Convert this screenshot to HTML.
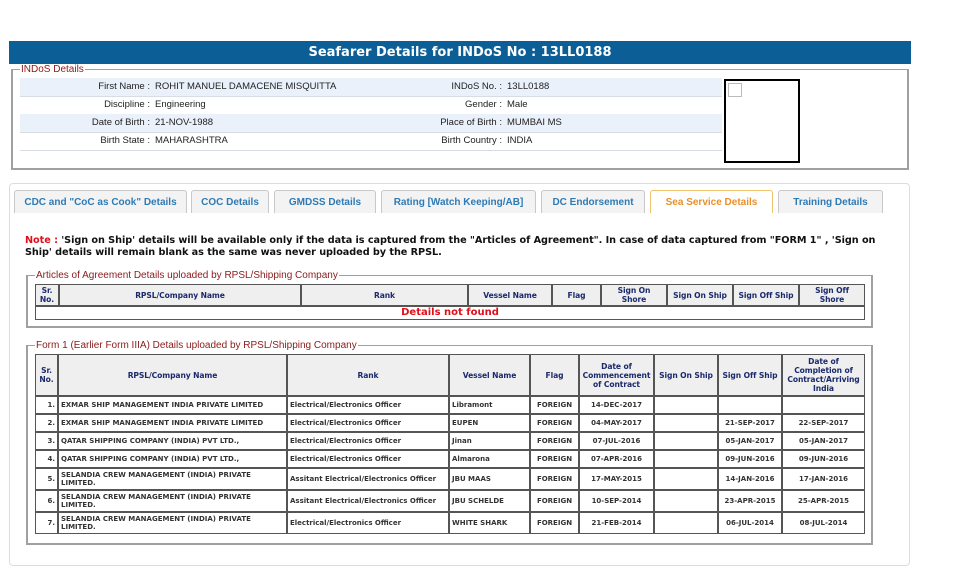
<!DOCTYPE html>
<html><head><meta charset="utf-8">
<style>
body{margin:0;width:968px;height:573px;background:#fff;position:relative;font-family:"Liberation Sans",Arial,sans-serif;overflow:hidden}
.a{position:absolute}
.hdr{left:9px;top:41px;width:902px;height:23px;background:#0b5f96;color:#fff;font:bold 13px "DejaVu Sans",sans-serif;text-align:center;line-height:23px}
.fs{border:2px solid #a0a0a0;border-top-width:1px;box-sizing:border-box}
.leg{background:#fff;color:#8b1a1a;font-size:10px;padding:0 1px}
.row{left:20px;width:702px;height:18px;border-bottom:1px solid #d8dde4;font-size:9.5px;color:#222;line-height:18px}
.row.b{background:#eaf1fb}
.row span{position:absolute}
.tab{top:190px;height:23px;border:1px solid #c8c8c8;border-bottom:none;border-radius:3px 3px 0 0;background:#f3f3f3;color:#2e7bb5;font:bold 10px "Liberation Sans",sans-serif;text-align:center;line-height:23px;box-sizing:border-box}
.tab.on{background:#fff;border-color:#f0c36d;color:#e8902a}
table{border-collapse:separate;border-spacing:0;table-layout:fixed;font-family:"DejaVu Sans",Verdana,sans-serif;font-weight:bold}
td,th{border:1px solid #444;padding:0 2px;overflow:hidden}
th{background:#efefef;color:#1c2a6b;font-size:7.6px;line-height:9px;padding:0 1px;letter-spacing:-0.1px}
td{font-size:7px;color:#333;line-height:8px}
.t th,.t td{border-color:#555}
</style></head><body>
<div class="a hdr">Seafarer Details for INDoS No : 13LL0188</div>

<div class="a fs" style="left:11px;top:69px;width:898px;height:101px"></div>
<div class="a leg" style="left:20px;top:64px">INDoS Details</div>
<div class="a row b" style="top:78px"><span style="left:0;width:130px;text-align:right">First Name :</span><span style="left:135px">ROHIT MANUEL DAMACENE MISQUITTA</span><span style="left:300px;width:182px;text-align:right">INDoS No. :</span><span style="left:487px">13LL0188</span></div>
<div class="a row" style="top:96px"><span style="left:0;width:130px;text-align:right">Discipline :</span><span style="left:135px">Engineering</span><span style="left:300px;width:182px;text-align:right">Gender :</span><span style="left:487px">Male</span></div>
<div class="a row b" style="top:114px"><span style="left:0;width:130px;text-align:right">Date of Birth :</span><span style="left:135px">21-NOV-1988</span><span style="left:300px;width:182px;text-align:right">Place of Birth :</span><span style="left:487px">MUMBAI MS</span></div>
<div class="a row" style="top:132px"><span style="left:0;width:130px;text-align:right">Birth State :</span><span style="left:135px">MAHARASHTRA</span><span style="left:300px;width:182px;text-align:right">Birth Country :</span><span style="left:487px">INDIA</span></div>
<div class="a" style="left:724px;top:79px;width:72px;height:80px;border:2px solid #000"><div style="margin:2px;width:12px;height:12px;border:1px solid #bbb"></div></div>

<div class="a" style="left:9px;top:183px;width:901px;height:383px;border:1px solid #ddd;border-radius:4px;box-sizing:border-box"></div>
<div class="a tab" style="left:14px;width:173px">CDC and "CoC as Cook" Details</div>
<div class="a tab" style="left:191px;width:78px">COC Details</div>
<div class="a tab" style="left:274px;width:102px">GMDSS Details</div>
<div class="a tab" style="left:381px;width:155px">Rating [Watch Keeping/AB]</div>
<div class="a tab" style="left:541px;width:104px">DC Endorsement</div>
<div class="a tab on" style="left:650px;width:123px">Sea Service Details</div>
<div class="a tab" style="left:778px;width:105px">Training Details</div>

<div class="a" style="left:25px;top:235px;width:860px;font:bold 9.7px/12px 'DejaVu Sans',Verdana,sans-serif;color:#111;letter-spacing:-0.05px"><span style="color:#e0101a">Note :</span> 'Sign on Ship' details will be available only if the data is captured from the "Articles of Agreement". In case of data captured from "FORM 1" , 'Sign on Ship' details will remain blank as the same was never uploaded by the RPSL.</div>

<div class="a fs" style="left:26px;top:275px;width:847px;height:53px"></div>
<div class="a leg" style="left:35px;top:270px">Articles of Agreement Details uploaded by RPSL/Shipping Company</div>
<table class="a t" style="left:35px;top:284px;width:830px">
<colgroup><col style="width:24px"><col style="width:242px"><col style="width:167px"><col style="width:84px"><col style="width:49px"><col style="width:66px"><col style="width:66px"><col style="width:66px"><col style="width:66px"></colgroup>
<tr style="height:22px"><th>Sr.<br>No.</th><th>RPSL/Company Name</th><th>Rank</th><th>Vessel Name</th><th>Flag</th><th>Sign On<br>Shore</th><th>Sign On Ship</th><th>Sign Off Ship</th><th>Sign Off<br>Shore</th></tr>
<tr style="height:14px"><td colspan="9" style="text-align:center;color:#e0101a;font-size:10px">Details not found</td></tr>
</table>

<div class="a fs" style="left:26px;top:345px;width:847px;height:200px"></div>
<div class="a leg" style="left:35px;top:340px">Form 1 (Earlier Form IIIA) Details uploaded by RPSL/Shipping Company</div>
<table class="a t" style="left:35px;top:354px;width:830px">
<colgroup><col style="width:23px"><col style="width:229px"><col style="width:162px"><col style="width:81px"><col style="width:49px"><col style="width:75px"><col style="width:64px"><col style="width:64px"><col style="width:83px"></colgroup>
<tr style="height:42px"><th>Sr.<br>No.</th><th>RPSL/Company Name</th><th>Rank</th><th>Vessel Name</th><th>Flag</th><th>Date of Commencement of Contract</th><th style="white-space:nowrap">Sign On Ship</th><th style="white-space:nowrap">Sign Off Ship</th><th>Date of Completion of Contract/Arriving India</th></tr>
<tr style="height:18px"><td style="text-align:right">1.</td><td>EXMAR SHIP MANAGEMENT INDIA PRIVATE LIMITED</td><td>Electrical/Electronics Officer</td><td>Libramont</td><td style="text-align:center">FOREIGN</td><td style="text-align:center">14-DEC-2017</td><td></td><td></td><td></td></tr>
<tr style="height:18px"><td style="text-align:right">2.</td><td>EXMAR SHIP MANAGEMENT INDIA PRIVATE LIMITED</td><td>Electrical/Electronics Officer</td><td>EUPEN</td><td style="text-align:center">FOREIGN</td><td style="text-align:center">04-MAY-2017</td><td></td><td style="text-align:center">21-SEP-2017</td><td style="text-align:center">22-SEP-2017</td></tr>
<tr style="height:18px"><td style="text-align:right">3.</td><td>QATAR SHIPPING COMPANY (INDIA) PVT LTD.,</td><td>Electrical/Electronics Officer</td><td>Jinan</td><td style="text-align:center">FOREIGN</td><td style="text-align:center">07-JUL-2016</td><td></td><td style="text-align:center">05-JAN-2017</td><td style="text-align:center">05-JAN-2017</td></tr>
<tr style="height:18px"><td style="text-align:right">4.</td><td>QATAR SHIPPING COMPANY (INDIA) PVT LTD.,</td><td>Electrical/Electronics Officer</td><td>Almarona</td><td style="text-align:center">FOREIGN</td><td style="text-align:center">07-APR-2016</td><td></td><td style="text-align:center">09-JUN-2016</td><td style="text-align:center">09-JUN-2016</td></tr>
<tr style="height:22px"><td style="text-align:right">5.</td><td>SELANDIA CREW MANAGEMENT (INDIA) PRIVATE LIMITED.</td><td>Assitant Electrical/Electronics Officer</td><td>JBU MAAS</td><td style="text-align:center">FOREIGN</td><td style="text-align:center">17-MAY-2015</td><td></td><td style="text-align:center">14-JAN-2016</td><td style="text-align:center">17-JAN-2016</td></tr>
<tr style="height:22px"><td style="text-align:right">6.</td><td>SELANDIA CREW MANAGEMENT (INDIA) PRIVATE LIMITED.</td><td>Assitant Electrical/Electronics Officer</td><td>JBU SCHELDE</td><td style="text-align:center">FOREIGN</td><td style="text-align:center">10-SEP-2014</td><td></td><td style="text-align:center">23-APR-2015</td><td style="text-align:center">25-APR-2015</td></tr>
<tr style="height:22px"><td style="text-align:right">7.</td><td>SELANDIA CREW MANAGEMENT (INDIA) PRIVATE LIMITED.</td><td>Electrical/Electronics Officer</td><td>WHITE SHARK</td><td style="text-align:center">FOREIGN</td><td style="text-align:center">21-FEB-2014</td><td></td><td style="text-align:center">06-JUL-2014</td><td style="text-align:center">08-JUL-2014</td></tr>
</table>
</body></html>
